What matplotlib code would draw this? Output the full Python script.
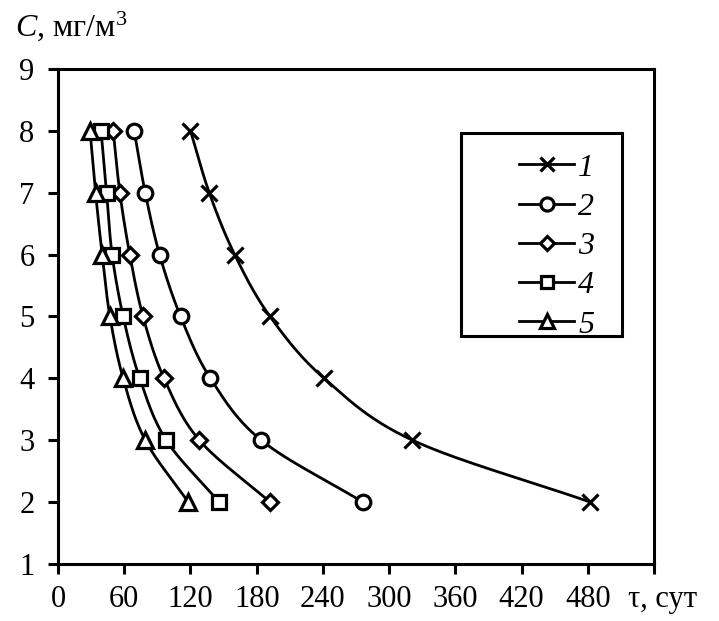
import numpy as np
import matplotlib
matplotlib.use("Agg")
import matplotlib.pyplot as plt
from matplotlib.patches import Rectangle
from matplotlib.transforms import ScaledTranslation

plt.rcParams['font.family'] = ['Liberation Serif', 'DejaVu Serif']
plt.rcParams['mathtext.fontset'] = 'custom'
plt.rcParams['mathtext.rm'] = 'Liberation Serif'
plt.rcParams['mathtext.it'] = 'Liberation Serif:italic'

# concentration levels, mg/m3
conc = [8, 7, 6, 5, 4, 3, 2]
# time, days, for each curve
tau_1 = [120, 137, 160, 192, 241, 321, 482]
tau_2 = [69, 79, 92, 111, 138, 184, 276]
tau_3 = [50, 56, 65, 77, 96, 128, 192]
tau_4 = [39, 44, 49, 59, 74, 98, 146]
tau_5 = [29, 34, 40, 47, 59, 79, 118]
labels = ['1', '2', '3', '4', '5']
xticks = [0, 60, 120, 180, 240, 300, 360, 420, 480]


def smooth(x, y, n=30):
    # catmull-rom through the points, like excel's smoothed line
    p = np.column_stack([x, y]).astype(float)
    p = np.vstack([2 * p[0] - p[1], p, 2 * p[-1] - p[-2]])
    out = []
    t = np.linspace(0, 1, n)[:, None]
    for i in range(1, len(p) - 2):
        p0, p1, p2, p3 = p[i - 1], p[i], p[i + 1], p[i + 2]
        seg = 0.5 * (2 * p1 + (-p0 + p2) * t + (2 * p0 - 5 * p1 + 4 * p2 - p3) * t ** 2
                     + (-p0 + 3 * p1 - 3 * p2 + p3) * t ** 3)
        out.append(seg)
    s = np.vstack(out)
    return s[:, 0], s[:, 1]


fig = plt.figure(figsize=(7.19, 6.21), dpi=100)
ax = fig.add_axes([0.0807, 0.092, 0.829, 0.797])

series = [(tau_1, 'x', 11.5), (tau_2, 'o', 10.5), (tau_3, 'D', 8),
          (tau_4, 's', 10), (tau_5, '^', 11)]
handles = []
for (tau, m, ms), lab in zip(series, labels):
    sx, sy = smooth(tau, conc)
    ax.plot(sx, sy, color='black', lw=2.0, zorder=2)
    ax.plot(tau, conc, ls='none', marker=m, ms=ms, mfc='white', mec='black',
            mew=2.3, zorder=3)
    h, = ax.plot([], [], color='black', lw=2.0, marker=m, ms=ms * 0.9,
                 mfc='white', mec='black', mew=2.3, label=lab)
    handles.append(h)

ax.set_xlim(0, 540)
ax.set_ylim(1, 9)
ax.set_xticks(xticks + [540])
ax.set_xticklabels([str(v) for v in xticks] + [''])
ax.set_yticks(range(1, 10))
for s in ax.spines.values():
    s.set_linewidth(2.2)
ax.tick_params(direction='out', length=7, width=2.2, labelsize=22)
ax.tick_params(axis='x', pad=8)
ax.tick_params(axis='y', pad=10)

ax.text(516, 1, 'τ, сут', ha='left', va='top', fontsize=22,
        transform=ax.transData + ScaledTranslation(0, -15 / 72, fig.dpi_scale_trans))
fig.text(0.021, 0.942, r'$C$, мг/м$^3$', fontsize=23, ha='left', va='baseline')

ax.add_patch(Rectangle((0.676, 0.461), 0.27, 0.409, transform=ax.transAxes,
                       fill=False, lw=2.2, ec='black', zorder=4, clip_on=False))
leg = ax.legend(handles=handles, loc='upper left', bbox_to_anchor=(0.747, 0.862),
                frameon=False, borderpad=0, handlelength=1.72, handletextpad=0.12,
                labelspacing=0.31, prop={'style': 'italic', 'size': 23})

fig.savefig('out.png', dpi=100)
